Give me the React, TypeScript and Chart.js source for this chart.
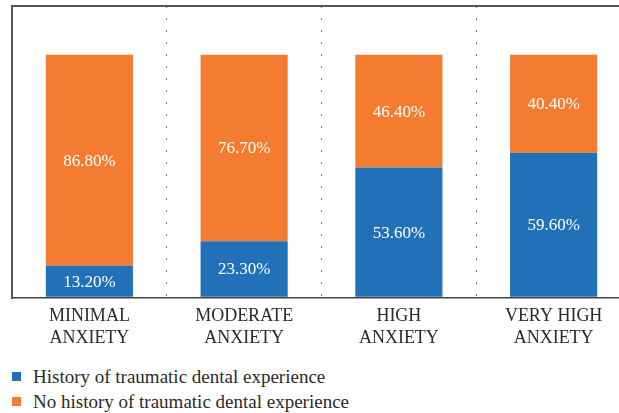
import React, { useEffect, useRef } from "react";
import { Chart, registerables } from "chart.js";

Chart.register(...registerables);

const categories: string[][] = [
  ["MINIMAL", "ANXIETY"],
  ["MODERATE", "ANXIETY"],
  ["HIGH", "ANXIETY"],
  ["VERY HIGH", "ANXIETY"],
];
const historyValues: number[] = [13.2, 23.3, 53.6, 59.6];
const noHistoryValues: number[] = [86.8, 76.7, 46.4, 40.4];
const seriesNames: string[] = [
  "History of traumatic dental experience",
  "No history of traumatic dental experience",
];
const seriesColors: string[] = ["#2271B8", "#F47C30"];

const FONT = "'Liberation Serif', 'DejaVu Serif', 'Noto Serif', serif";

const valueLabels = {
  id: "valueLabels",
  afterDatasetsDraw(chart: any) {
    const ctx = chart.ctx;
    ctx.save();
    ctx.fillStyle = "#ffffff";
    ctx.font = `17px ${FONT}`;
    ctx.textAlign = "center";
    ctx.textBaseline = "middle";
    chart.data.datasets.forEach((ds: any, di: number) => {
      const meta = chart.getDatasetMeta(di);
      meta.data.forEach((el: any, i: number) => {
        const v = ds.data[i] as number;
        const y = (el.y + el.base) / 2;
        ctx.fillText(`${v.toFixed(2)}%`, el.x, y + 1);
      });
    });
    ctx.restore();
  },
};

export default function App() {
  const ref = useRef<HTMLCanvasElement | null>(null);
  useEffect(() => {
    if (!ref.current) return;
    const chart = new Chart(ref.current, {
      type: "bar",
      data: {
        labels: categories as any,
        datasets: [
          {
            label: seriesNames[0],
            data: historyValues,
            backgroundColor: seriesColors[0],
            barPercentage: 0.563,
            categoryPercentage: 1,
          },
          {
            label: seriesNames[1],
            data: noHistoryValues,
            backgroundColor: seriesColors[1],
            barPercentage: 0.563,
            categoryPercentage: 1,
          },
        ],
      },
      options: {
        responsive: false,
        animation: false,
        devicePixelRatio: 1,
        layout: { padding: { top: 6, left: 12, right: 0, bottom: 0 } },
        plugins: {
          legend: { display: false },
          tooltip: { enabled: false },
        },
        scales: {
          x: {
            stacked: true,
            offset: true,
            grid: {
              display: true,
              offset: true,
              drawTicks: false,
              color: "#777",
              lineWidth: 1,
            },
            border: { display: true, color: "#444", width: 1.5, dash: [2, 10] } as any,
            ticks: {
              color: "#2a2a2a",
              padding: 8,
              maxRotation: 0,
              autoSkip: false,
              font: { family: FONT, size: 18, lineHeight: 1.2 },
            },
          },
          y: {
            stacked: true,
            min: 0,
            max: 120,
            ticks: { display: false, stepSize: 20 },
            grid: {
              display: true,
              drawTicks: false,
              lineWidth: 2,
              color: (c: any) => (c.tick && c.tick.value === 120 ? "#555" : "rgba(0,0,0,0)"),
            },
            border: { display: true, color: "#555", width: 2 },
          },
        },
      },
      plugins: [valueLabels],
    });
    return () => chart.destroy();
  }, []);

  return (
    <div
      style={{
        position: "fixed",
        left: 0,
        top: 0,
        width: 619,
        height: 413,
        overflow: "hidden",
        background: "#fff",
      }}
    >
      <canvas ref={ref} width={631} height={357} style={{ display: "block" }} />
      <div
        style={{
          position: "absolute",
          left: 12,
          top: 364,
          fontFamily: FONT,
          fontSize: 19,
          color: "#2a2a2a",
        }}
      >
        {seriesNames.map((name, i) => (
          <div key={name} style={{ display: "flex", alignItems: "center", height: 25 }}>
            <span
              style={{
                display: "inline-block",
                width: 9,
                height: 9,
                background: seriesColors[i],
                marginRight: 12,
              }}
            />
            <span>{name}</span>
          </div>
        ))}
      </div>
    </div>
  );
}
